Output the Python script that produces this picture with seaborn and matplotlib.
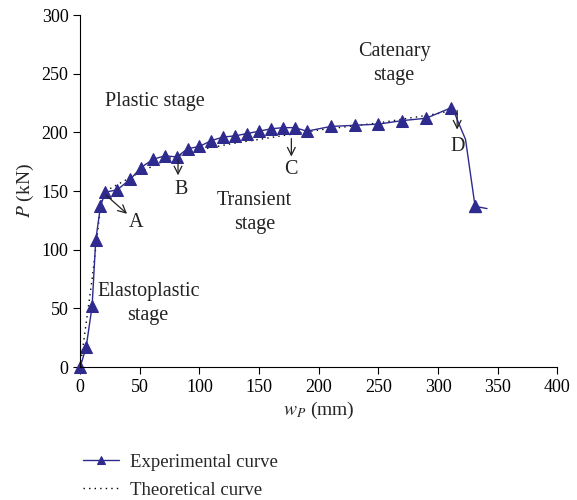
import matplotlib
matplotlib.use("Agg")
import matplotlib.pyplot as plt
import seaborn as sns
import pandas as pd

# ---- data ----
exp_x = [0, 5, 10, 13, 17, 21, 31, 42, 51, 61, 71, 81, 90, 100, 110, 120, 130, 140,
         150, 160, 170, 180, 190, 210, 230, 250, 270, 290, 311, 331]
exp_y = [0, 17, 52, 108, 137, 149, 151, 160, 170, 177, 180, 179, 186, 188, 193, 196,
         197, 199, 201, 203, 204, 204, 201, 205, 206, 207, 210, 212, 221, 137]
# extra points of the experimental line (no markers) after peak
tail_x = [311, 314, 318, 323, 331, 341]
tail_y = [221, 216, 206, 194, 137, 135]

theo_x = [0, 10, 18, 25, 50, 75, 100, 125, 150, 175, 200, 225, 250, 275, 300, 312]
theo_y = [0, 75, 145, 152, 166, 178, 185, 190, 194, 198, 202, 205, 208, 212, 216, 219]

x_ticks = [0, 50, 100, 150, 200, 250, 300, 350, 400]
y_ticks = [0, 50, 100, 150, 200, 250, 300]

color = "#2e2a8e"

sns.set_theme(style="ticks")
plt.rcParams["font.family"] = ["Liberation Serif", "DejaVu Serif"]
plt.rcParams["mathtext.fontset"] = "stix"

fig = plt.figure(figsize=(5.77, 5.0), dpi=100)
ax = fig.add_axes([0.139, 0.266, 0.827, 0.704])

df_exp = pd.DataFrame({"x": exp_x, "y": exp_y})
df_tail = pd.DataFrame({"x": tail_x, "y": tail_y})
df_theo = pd.DataFrame({"x": theo_x, "y": theo_y})

sns.lineplot(data=df_theo, x="x", y="y", ax=ax, color="black", linestyle=(0, (1, 3)),
             linewidth=1.0, sort=False, label="Theoretical curve")
sns.lineplot(data=df_exp.iloc[:-1], x="x", y="y", ax=ax, color=color, linewidth=1.0,
             sort=False, marker="^", markersize=8, markeredgecolor=color,
             label="Experimental curve")
sns.lineplot(data=df_tail, x="x", y="y", ax=ax, color=color, linewidth=1.0, sort=False)
ax.plot(exp_x[-1:], exp_y[-1:], marker="^", color=color, markersize=8, linestyle="none")
for ln in ax.lines:
    ln.set_clip_on(False)

ax.set_xlim(0, 400)
ax.set_ylim(0, 300)
ax.set_xticks(x_ticks)
ax.set_yticks(y_ticks)
ax.tick_params(labelsize=13, direction="out", length=5, width=0.8, colors="black")
for s in ["top", "right"]:
    ax.spines[s].set_visible(False)
for s in ["left", "bottom"]:
    ax.spines[s].set_linewidth(0.8)
    ax.spines[s].set_color("black")
ax.set_xlabel(r"$w_P$ (mm)", fontsize=14, labelpad=3)
ax.set_ylabel(r"$P$ (kN)", fontsize=14, labelpad=4)

tf = dict(fontsize=14.5, color="#222222", ha="center", va="center")
ax.text(63, 226, "Plastic stage", **tf)
ax.text(263, 259, "Catenary\nstage", linespacing=1.35, **tf)
ax.text(146, 132, "Transient\nstage", linespacing=1.35, **tf)
ax.text(57, 54, "Elastoplastic\nstage", linespacing=1.35, **tf)

ap = dict(arrowstyle="->", color="#222222", lw=0.9, mutation_scale=14)
ax.text(47, 123, "A", **tf)
ax.annotate("", xy=(41, 129), xytext=(20, 148), arrowprops=ap)
ax.text(85, 151, "B", **tf)
ax.annotate("", xy=(82, 161), xytext=(82, 179), arrowprops=ap)
ax.text(177, 168, "C", **tf)
ax.annotate("", xy=(177, 177), xytext=(177, 197), arrowprops=ap)
ax.text(316, 188, "D", **tf)
ax.annotate("", xy=(316, 200), xytext=(316, 221), arrowprops=ap)

handles, labels = ax.get_legend_handles_labels()
order = [labels.index("Experimental curve"), labels.index("Theoretical curve")]
leg = ax.legend([handles[i] for i in order], [labels[i] for i in order],
                loc="upper left", bbox_to_anchor=(0.131, 0.108),
                bbox_transform=fig.transFigure, frameon=False, fontsize=13.5,
                handlelength=1.9, handletextpad=0.6, borderaxespad=0,
                labelspacing=0.6, markerscale=0.8)

fig.savefig("out.png", dpi=100)
